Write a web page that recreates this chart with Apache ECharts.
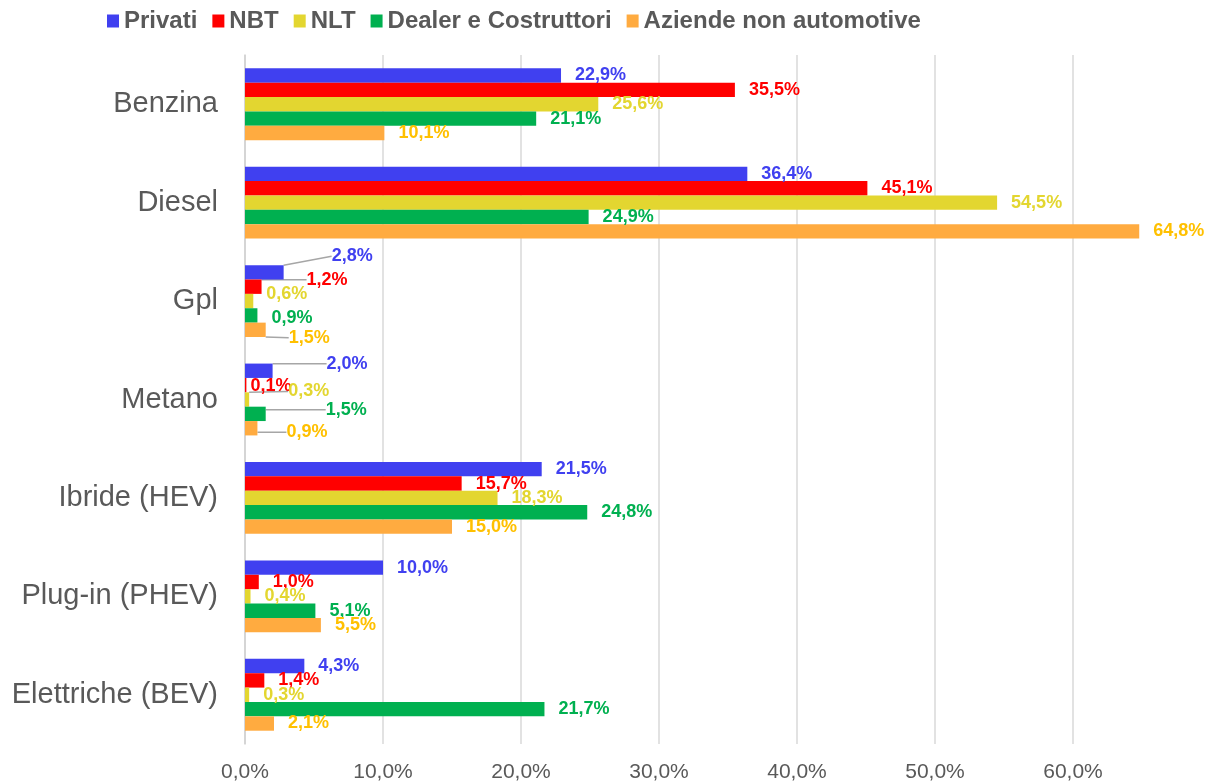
<!DOCTYPE html>
<html>
<head>
<meta charset="utf-8">
<script src="https://cdn.jsdelivr.net/npm/echarts@6/dist/echarts.min.js"></script>
<style>
  html, body { margin: 0; padding: 0; background: #fff; }
  #chart { width: 1213px; height: 783px; }
</style>
</head>
<body>
<div id="chart"></div>
<script>
// categorie (dall'alto verso il basso)
var categories = ['Benzina', 'Diesel', 'Gpl', 'Metano', 'Ibride (HEV)', 'Plug-in (PHEV)', 'Elettriche (BEV)'];

// quote percentuali per canale
var privati  = [22.9, 36.4, 2.8, 2.0, 21.5, 10.0, 4.3];
var nbt      = [35.5, 45.1, 1.2, 0.1, 15.7, 1.0, 1.4];
var nlt      = [25.6, 54.5, 0.6, 0.3, 18.3, 0.4, 0.3];
var dealer   = [21.1, 24.9, 0.9, 1.5, 24.8, 5.1, 21.7];
var aziende  = [10.1, 64.8, 1.5, 0.9, 15.0, 5.5, 2.1];

var xTicks = [0, 10, 20, 30, 40, 50, 60];

var seriesNames  = ['Privati', 'NBT', 'NLT', 'Dealer e Costruttori', 'Aziende non automotive'];
var barColors    = ['#4040F0', '#FF0000', '#E3D630', '#00B050', '#FFAB40'];
var labelColors  = ['#4040F0', '#FF0000', '#E3D630', '#00B050', '#FFC000'];
var seriesData   = [privati, nbt, nlt, dealer, aziende];

// spostamenti delle etichette piccole (Gpl = 2, Metano = 3), come nel grafico Excel
var labelShift = {
    '0-2': [34, -16, true], '1-2': [31, -7, true], '2-2': [-1, -7, false], '3-2': [0, 3, false], '4-2': [9, 8, true],
    '0-3': [40, -7, true],  '1-3': [-10, 1, false], '2-3': [25, -8, true], '3-3': [46, -4, true], '4-3': [15, 4, true]
};

function pct(v) {
    return v.toFixed(1).replace('.', ',') + '%';
}

var myChart = echarts.init(document.getElementById('chart'));

var series = seriesNames.map(function (name, s) {
    return {
        name: name,
        type: 'bar',
        barGap: '0%',
        barCategoryGap: '27%',
        itemStyle: { color: barColors[s] },
        label: {
            show: true,
            position: 'right',
            distance: 14,
            color: labelColors[s],
            fontFamily: 'Liberation Sans, Arial, sans-serif',
            fontWeight: 'bold',
            fontSize: 18,
            formatter: function (p) { return pct(p.value); }
        },
        labelLine: { show: false, lineStyle: { color: '#A6A6A6', width: 1.5 } },
        labelLayout: function (p) {
            var k = labelShift[p.seriesIndex + '-' + p.dataIndex];
            return k ? { dx: k[0], dy: k[1] } : {};
        },
        data: seriesData[s].map(function (v, i) {
            var k = labelShift[s + '-' + i];
            var item = { value: v };
            if (k && k[2]) {
                item.labelLine = { show: true, lineStyle: { color: '#A6A6A6', width: 1.5 } };
            }
            return item;
        })
    };
});

myChart.setOption({
    backgroundColor: '#FFFFFF',
    animation: false,
    legend: {
        data: seriesNames,
        top: 4,
        left: 102,
        icon: 'rect',
        itemWidth: 12,
        itemHeight: 13,
        itemGap: 15,
        textStyle: {
            fontFamily: 'Liberation Sans, Arial, sans-serif',
            fontWeight: 'bold',
            fontSize: 24,
            color: '#595959'
        }
    },
    grid: { left: 245, right: 71, top: 55, bottom: 37, containLabel: false },
    xAxis: {
        type: 'value',
        min: 0,
        max: 65,
        interval: 10,
        axisLine: { show: false },
        axisTick: { show: false },
        splitLine: {
            show: true,
            lineStyle: {
                color: xTicks.map(function () { return '#D9D9D9'; }).concat(['rgba(0,0,0,0)']),
                width: 1.5
            }
        },
        axisLabel: {
            showMaxLabel: false,
            margin: 18,
            color: '#595959',
            fontFamily: 'Liberation Sans, Arial, sans-serif',
            fontSize: 21,
            formatter: function (v) { return xTicks.indexOf(v) >= 0 ? pct(v) : ''; }
        }
    },
    yAxis: {
        type: 'category',
        inverse: true,
        data: categories,
        axisLine: { show: true, lineStyle: { color: '#D0D0D0', width: 1.5 } },
        axisTick: { show: false },
        axisLabel: {
            margin: 27,
            padding: [6, 0, 0, 0],
            color: '#595959',
            fontFamily: 'Liberation Sans, Arial, sans-serif',
            fontSize: 29
        }
    },
    series: series
});
</script>
</body>
</html>
